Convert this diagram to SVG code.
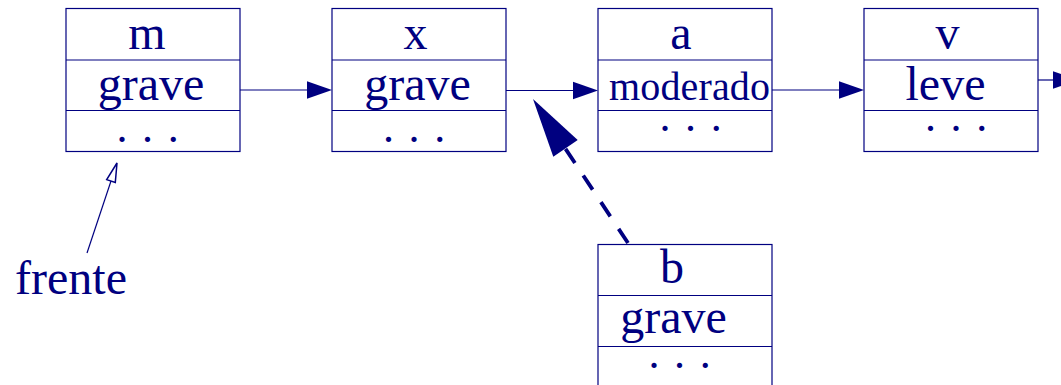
<svg xmlns="http://www.w3.org/2000/svg" width="1061" height="385" viewBox="0 0 1061 385">
<style>
.box{fill:none;stroke:#000080;stroke-width:1.2}
.t{font-family:"Liberation Serif","Times New Roman",serif;font-size:48px;fill:#000080;text-anchor:middle}
.s{font-size:40px}
.d{font-size:44px;letter-spacing:1.8px}
.ln{stroke:#000080;stroke-width:1.2;fill:none}
.ah{fill:#000080}
</style>
<rect width="1061" height="385" fill="#fff"/>
<g id="node-m">
<rect class="box" x="66" y="8.5" width="174" height="143"/>
<line class="box" x1="66" y1="60" x2="240" y2="60"/>
<line class="box" x1="66" y1="110.5" x2="240" y2="110.5"/>
<text class="t" x="147" y="49">m</text>
<text class="t" x="151" y="100">grave</text>
<text class="t d" x="148.5" y="142">. . .</text>
</g>
<g id="node-x">
<rect class="box" x="332" y="8.5" width="174" height="143"/>
<line class="box" x1="332" y1="60" x2="506" y2="60"/>
<line class="box" x1="332" y1="110.5" x2="506" y2="110.5"/>
<text class="t" x="415.5" y="49">x</text>
<text class="t" x="417.5" y="100">grave</text>
<text class="t d" x="415" y="142">. . .</text>
</g>
<g id="node-a">
<rect class="box" x="598" y="8.5" width="174" height="143"/>
<line class="box" x1="598" y1="60" x2="772" y2="60"/>
<line class="box" x1="598" y1="110.5" x2="772" y2="110.5"/>
<text class="t" x="681" y="49">a</text>
<text class="t s" x="689.5" y="100" textLength="161">moderado</text>
<text class="t d" x="691.5" y="131">. . .</text>
</g>
<g id="node-v">
<rect class="box" x="864" y="8.5" width="174" height="143"/>
<line class="box" x1="864" y1="60" x2="1038" y2="60"/>
<line class="box" x1="864" y1="110.5" x2="1038" y2="110.5"/>
<text class="t" x="947.5" y="49">v</text>
<text class="t" x="945.5" y="100">leve</text>
<text class="t d" x="957" y="131">. . .</text>
</g>
<g id="node-b">
<rect class="box" x="598" y="244.5" width="174" height="143"/>
<line class="box" x1="598" y1="295.5" x2="772" y2="295.5"/>
<line class="box" x1="598" y1="346.5" x2="772" y2="346.5"/>
<text class="t" x="672" y="283">b</text>
<text class="t" x="673.5" y="333">grave</text>
<text class="t d" x="680.5" y="368">. . .</text>
</g>
<g id="label-frente">
<text class="t" x="71" y="294">frente</text>
</g>
<g id="connectors">
<line class="ln" x1="240" y1="90" x2="308" y2="90"/>
<polygon class="ah" points="332,90 307,81.3 307,98.7"/>
<line class="ln" x1="506" y1="90.5" x2="574" y2="90.5"/>
<polygon class="ah" points="598,90.5 573,81.8 573,99.2"/>
<line class="ln" x1="772" y1="90" x2="840" y2="90"/>
<polygon class="ah" points="864,90 839,81.3 839,98.7"/>
<line class="ln" x1="1038" y1="80" x2="1054" y2="80"/>
<polygon class="ah" points="1078,80 1053,71.3 1053,88.7"/>
<line x1="628" y1="243" x2="565" y2="148" stroke="#000080" stroke-width="3.8" stroke-dasharray="17 15"/>
<polygon class="ah" points="533,99 553.3,156.7 577.7,140"/>
<line class="ln" x1="87" y1="253" x2="111" y2="181"/>
<polygon points="117,163 115.3,182.4 106.7,179.6" fill="#fff" stroke="#000080" stroke-width="1.5"/>
</g>
</svg>
